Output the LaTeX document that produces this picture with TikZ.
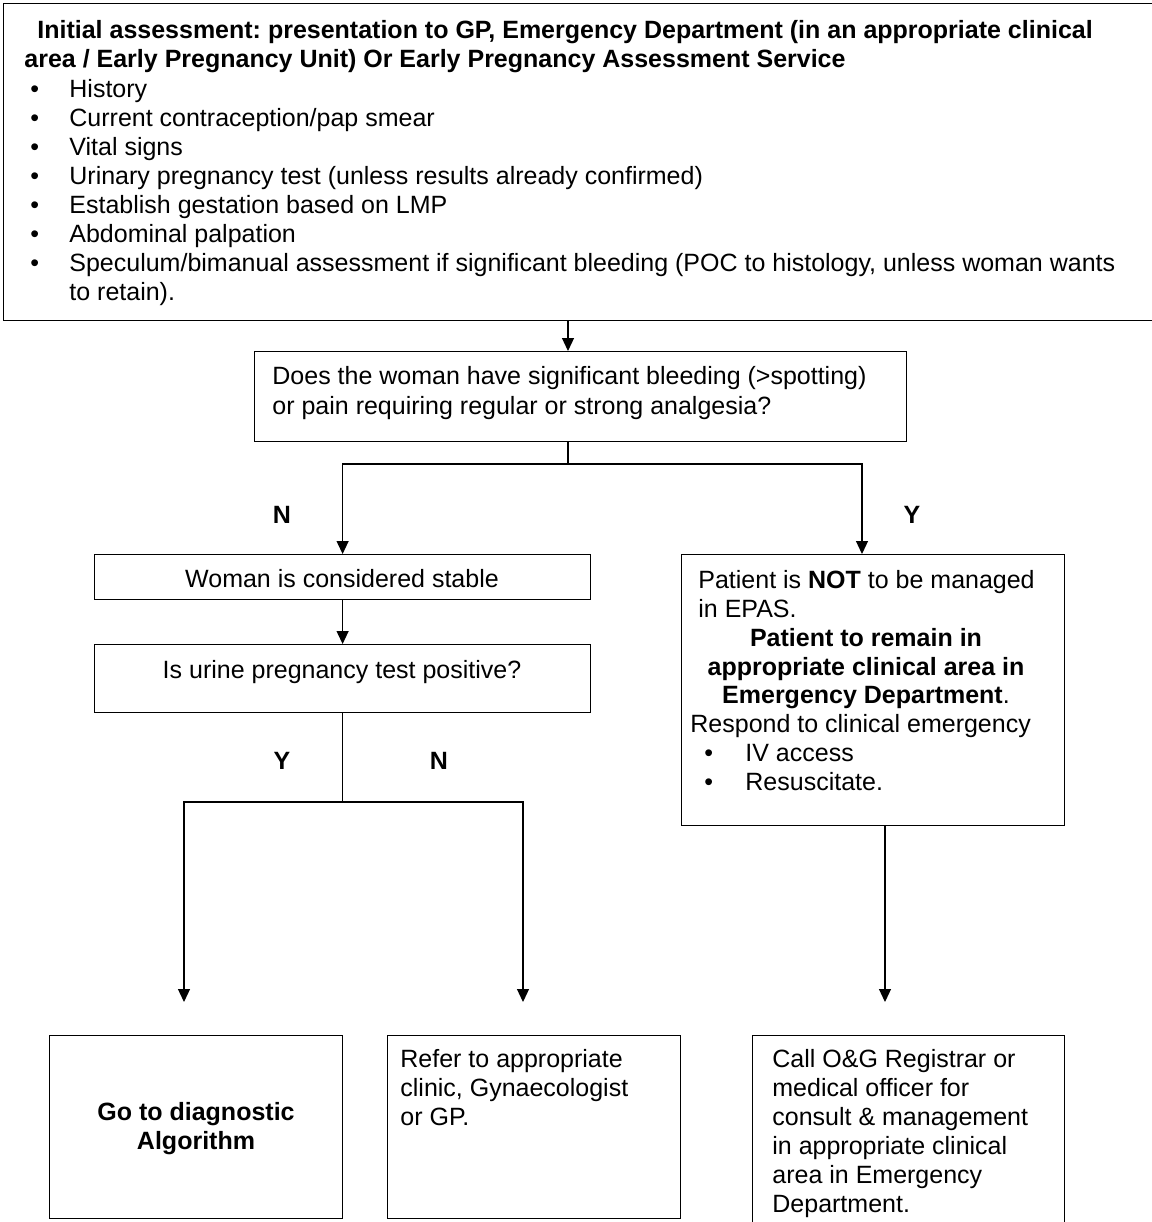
\documentclass[tikz,border=0pt]{standalone}
\usepackage{fontspec}
\setmainfont{Liberation Sans}
\usetikzlibrary{arrows.meta}
\frenchspacing
\begin{document}
\begin{tikzpicture}[x=0.5pt,y=-0.5pt,
  box/.style={draw, line width=0.6pt, inner sep=0pt, anchor=north west},
  txt/.style={inner sep=0pt, anchor=base west, font=\fontsize{12.5}{14.5}\selectfont},
  btxt/.style={txt, font=\fontsize{12.5}{14.5}\selectfont\bfseries},
  ctxt/.style={txt, anchor=base},
  cbtxt/.style={btxt, anchor=base},
  arr/.style={-{Triangle[length=6.5pt,width=6pt]}, line width=0.6pt},
  ln/.style={line width=0.6pt}]
\clip (0,0) rectangle (1152,1222);
% boxes
\node[box, minimum width=582pt, minimum height=158.5pt] (top) at (3,3) {};
\node[box, minimum width=326pt, minimum height=45pt] (q) at (254,351) {};
\node[box, minimum width=248pt, minimum height=22.5pt] (stable) at (94,554) {};
\node[box, minimum width=248pt, minimum height=34pt] (urine) at (94,644) {};
\node[box, minimum width=191.5pt, minimum height=135.5pt] (notepas) at (681,554) {};
\node[box, minimum width=146.5pt, minimum height=91.5pt] (diag) at (49,1035) {};
\node[box, minimum width=146.5pt, minimum height=91.5pt] (refer) at (387,1035) {};
\node[box, minimum width=156pt, minimum height=100pt] (call) at (752,1035) {};
% top box text
\node[btxt] (h1) at (37,38) {Initial assessment: presentation to GP, Emergency Department (in an appropriate clinical};
\node[btxt] (h2) at (24,67) {area / Early Pregnancy Unit) Or Early Pregnancy Assessment Service};
\foreach \y/\t [count=\i] in {97/History, 126/Current contraception\slash pap smear, 155/Vital signs,
  184/Urinary pregnancy test (unless results already confirmed), 213/Establish gestation based on LMP,
  242/Abdominal palpation, 271/{Speculum\slash bimanual assessment if significant bleeding (POC to histology, unless woman wants}}{
  \node[txt] (bul\i) at (30,\y) {•};
  \node[txt] (it\i) at (69,\y) {\t};
}
\node[txt] (it8) at (69,300) {to retain).};
% question
\node[txt] (q1) at (272,384) {Does the woman have significant bleeding (>spotting)};
\node[txt] (q2) at (272,414) {or pain requiring regular or strong analgesia?};
\node[cbtxt] (lN1) at (282,523) {N};
\node[cbtxt] (lY1) at (912,523) {Y};
\node[ctxt] (st) at (342,587) {Woman is considered stable};
\node[ctxt] (ur) at (342,678) {Is urine pregnancy test positive?};
\node[cbtxt] (lY2) at (282,769) {Y};
\node[cbtxt] (lN2) at (439,769) {N};
% right box text
\node[txt] (r1) at (698,588) {Patient is \textbf{NOT} to be managed};
\node[txt] (r2) at (698,617) {in EPAS.};
\node[cbtxt] (r3) at (866,646) {Patient to remain in};
\node[cbtxt] (r4) at (866,675) {appropriate clinical area in};
\node[ctxt] (r5) at (866,703) {\textbf{Emergency Department}.};
\node[txt] (r6) at (690,732) {Respond to clinical emergency};
\node[txt] (rb1) at (704,761) {•};
\node[txt] (r7) at (745,761) {IV access};
\node[txt] (rb2) at (704,790) {•};
\node[txt] (r8) at (745,790) {Resuscitate.};
% bottom texts
\node[cbtxt] (d1) at (196,1120) {Go to diagnostic};
\node[cbtxt] (d2) at (196,1149) {Algorithm};
\node[txt] (f1) at (400,1067) {Refer to appropriate};
\node[txt] (f2) at (400,1096) {clinic, Gynaecologist};
\node[txt] (f3) at (400,1125) {or GP.};
\foreach \y/\t [count=\i] in {1067/Call O\&G Registrar or, 1096/medical officer for, 1125/consult \& management,
  1154/in appropriate clinical, 1183/area in Emergency, 1212/Department.}{
  \node[txt] (c\i) at (772,\y) {\t};
}
% connectors
\coordinate (qin) at (568,351);
\coordinate (qout) at (568,441);
\coordinate (qsplit) at (568,464);
\coordinate (yturn) at (862,464);
\coordinate (nturn) at (stable.north |- qsplit);
\draw[arr] (qin |- top.south) -- (qin);
\draw[ln] (qout) -- (qsplit);
\draw[arr] (qsplit) -- (nturn) -- (stable.north);
\draw[arr] (qsplit) -- (yturn) -- (yturn |- notepas.north);
\draw[arr] (stable.south) -- (urine.north);
\coordinate (usplit) at (urine.south |- 0,802);
\coordinate (yl) at (184,802);
\coordinate (nl) at (523,802);
\coordinate (yend) at (184,1002);
\coordinate (nend) at (523,1002);
\coordinate (rstart) at (885,825);
\coordinate (rend) at (885,1002);
\draw[ln] (urine.south) -- (usplit);
\draw[arr] (usplit) -- (yl) -- (yend);
\draw[arr] (usplit) -- (nl) -- (nend);
\draw[arr] (rstart |- notepas.south) -- (rend);
\end{tikzpicture}
\end{document}
